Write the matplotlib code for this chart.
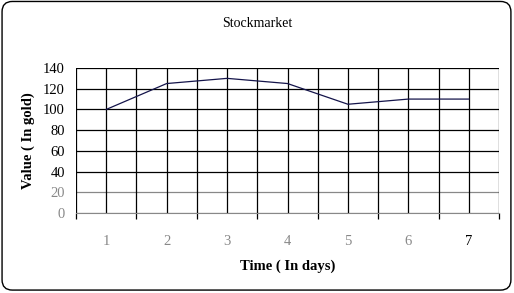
import matplotlib
matplotlib.use("Agg")
import matplotlib.pyplot as plt
from matplotlib.patches import FancyBboxPatch
import numpy as np

days = [1, 2, 3, 4, 5, 6, 7]
day_labels = ["1", "2", "3", "4", "5", "6", "7"]
values = [100, 125, 130, 125, 105, 110, 110]
y_ticks = [0, 20, 40, 60, 80, 100, 120, 140]

plt.rcParams['font.family'] = ['Liberation Serif', 'DejaVu Serif']

fig = plt.figure(figsize=(5.14, 2.93), dpi=100)
fig.patch.set_facecolor('white')

border = FancyBboxPatch((0.004, 0.01), 0.99, 0.985,
                        boxstyle="round,pad=0,rounding_size=0.02",
                        transform=fig.transFigure, fill=False,
                        edgecolor='black', linewidth=1.0, mutation_aspect=514/293)
fig.patches.append(border)

ax = fig.add_axes([0.1479, 0.273, 0.8229, 0.4949])
ax.set_xlim(0.5, 7.5)
ax.set_ylim(0, 140)

# gridlines
for yv in y_ticks:
    ax.axhline(yv, color='black' if yv >= 40 else '#888888', lw=0.9, zorder=1)
for xv in np.arange(0.5, 7.51, 0.5):
    ax.axvline(xv, color='black', lw=0.9, zorder=1)

ax.plot(days, values, color='#14144a', lw=0.9, zorder=3)

for s in ax.spines.values():
    s.set_visible(False)
ax.spines['bottom'].set_visible(True)
ax.spines['bottom'].set_color('#888888')

ax.set_yticks(y_ticks)
ax.set_yticklabels([str(v) for v in y_ticks], fontsize=10.5)
for lbl, v in zip(ax.get_yticklabels(), y_ticks):
    lbl.set_color('black' if v >= 40 else '#888888')
ax.tick_params(axis='y', length=0, pad=8)

ax.set_xticks(np.arange(0.5, 7.51, 1.0), minor=True)
ax.set_xticks(days)
ax.set_xticklabels(day_labels, fontsize=10.5)
for lbl, d in zip(ax.get_xticklabels(), days):
    lbl.set_color('black' if d == 7 else '#888888')
ax.tick_params(axis='x', which='major', length=0, pad=16)
ax.tick_params(axis='x', which='minor', length=4, direction='out', color='black', width=0.9)

ax.set_xlabel("Time ( In days)", fontsize=10.5, fontweight='bold', labelpad=8)
ax.set_ylabel("Value ( In gold)", fontsize=10.5, fontweight='bold', labelpad=6)

fig.text(0.5, 0.92, "Stockmarket", ha='center', va='center', fontsize=10)

fig.savefig("out.png", dpi=100)
